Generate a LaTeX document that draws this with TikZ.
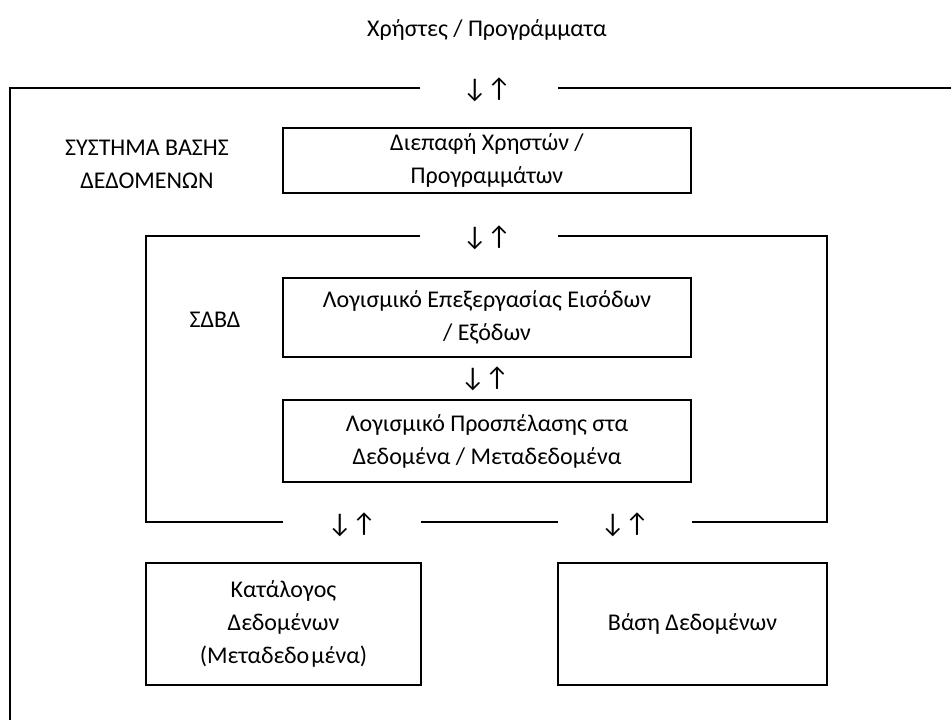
\documentclass[tikz,border=0pt]{standalone}
\usepackage{fontspec}
\setmainfont{Carlito}
\begin{document}
\begin{tikzpicture}[x=1pt,y=-1pt,
  frame/.style={line width=1.6pt},
  box/.style={draw, line width=1.6pt, rectangle, inner sep=0pt, align=center,
    font=\fontsize{24}{33}\selectfont},
  lbl/.style={inner sep=0pt, align=center, font=\fontsize{24}{33}\selectfont},
  updown/.style={inner sep=0pt, font=\fontsize{27}{27}\selectfont}]
\useasboundingbox (0,0) rectangle (951,720);

% heading above the system
\node[lbl] (users) at (487,30) {Χρήστες / Προγράμματα};

% outer system frame, open at the right
\coordinate (oA) at (420,88);
\coordinate (oB) at (10,88);
\coordinate (oC) at (10,725);
\coordinate (oD) at (558,88);
\coordinate (oE) at (956,88);
\draw[frame] (oA) -- (oB) -- (oC);
\draw[frame] (oD) -- (oE);
\node[updown] (a0) at (487,90) {↓↑};

\node[lbl] (sys) at (147,164) {ΣΥΣΤΗΜΑ ΒΑΣΗΣ\\ΔΕΔΟΜΕΝΩΝ};

\node[box, minimum width=408pt, minimum height=65pt] (ui) at (487,160.5)
  {Διεπαφή Χρηστών /\\Προγραμμάτων};

% inner DBMS frame
\coordinate (iA) at (420,236);
\coordinate (iB) at (146,236);
\coordinate (iC) at (146,522);
\coordinate (iD) at (283,522);
\coordinate (iE) at (558,236);
\coordinate (iF) at (827,236);
\coordinate (iG) at (827,522);
\coordinate (iH) at (692,522);
\coordinate (iI) at (421,522);
\coordinate (iJ) at (558,522);
\draw[frame] (iA) -- (iB) -- (iC) -- (iD);
\draw[frame] (iE) -- (iF) -- (iG) -- (iH);
\draw[frame] (iI) -- (iJ);
\node[updown] (a1) at (487,238) {↓↑};

\node[lbl] (dbms) at (215,320) {ΣΔΒΔ};

\node[box, minimum width=408pt, minimum height=79pt] (io) at (487,317.5)
  {Λογισμικό Επεξεργασίας Εισόδων\\/ Εξόδων};
\node[updown] (a2) at (485,379) {↓↑};
\node[box, minimum width=408pt, minimum height=82pt] (acc) at (487,441)
  {Λογισμικό Προσπέλασης στα\\Δεδομένα / Μεταδεδομένα};

\node[updown] (a3) at (352,525) {↓↑};
\node[updown] (a4) at (625,525) {↓↑};

\node[box, minimum width=275pt, minimum height=122pt] (cat) at (283.5,624)
  {Κατάλογος\\Δεδομένων\\(Μεταδεδο\kern2ptμένα)};
\node[box, minimum width=269pt, minimum height=122pt] (db) at (692.5,624)
  {Βάση Δεδομένων};
\end{tikzpicture}
\end{document}
